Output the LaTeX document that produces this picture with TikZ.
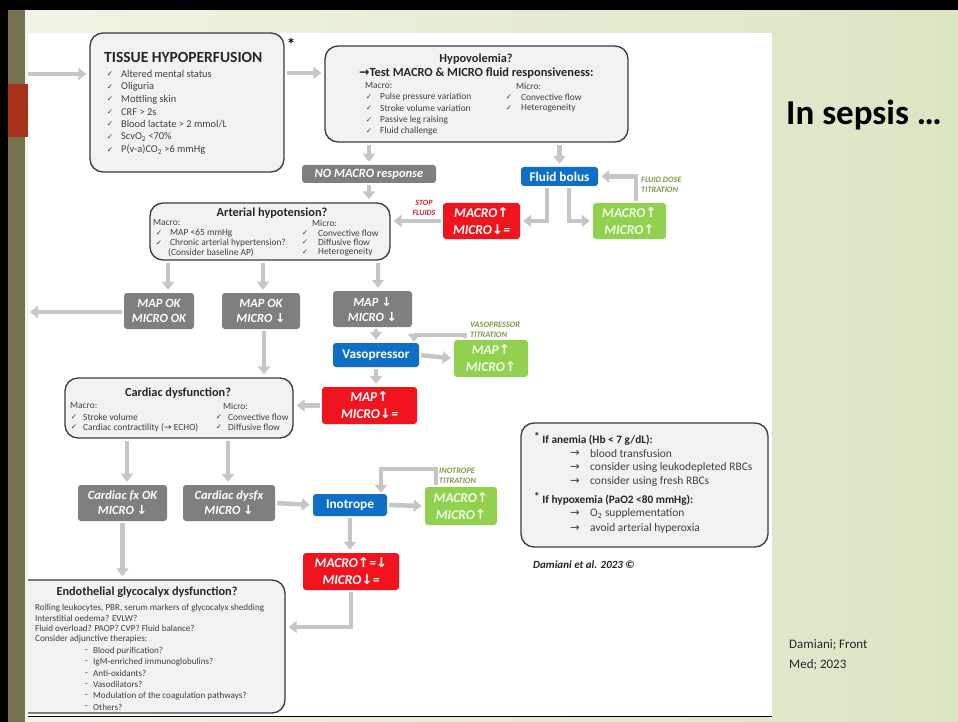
\documentclass[tikz,border=0pt]{standalone}
\usepackage{fontspec}
\setmainfont{Carlito}
\newfontfamily\symf{DejaVu Sans}
\usetikzlibrary{arrows.meta,calc}
\definecolor{boxfill}{HTML}{F2F2F2}
\definecolor{boxline}{HTML}{3A3A3A}
\definecolor{txtc}{HTML}{404040}
\definecolor{arrg}{HTML}{C6C6C6}
\definecolor{grayb}{HTML}{7F7F7F}
\definecolor{blueb}{HTML}{0F6FC6}
\definecolor{redb}{HTML}{F0141E}
\definecolor{greenb}{HTML}{92D050}
\definecolor{greent}{HTML}{F2FFE6}
\definecolor{titg}{HTML}{7A9A45}
\definecolor{stopr}{HTML}{D02030}
\definecolor{olivestrip}{HTML}{76704E}
\definecolor{redstrip}{HTML}{A8321A}
\definecolor{bgA}{HTML}{F1F5E6}
\definecolor{bgB}{HTML}{DBE5C3}
\newcommand{\upa}{{\symf ↑}}
\newcommand{\dna}{{\symf ↓}}
\newcommand{\ckm}{✓}
\tikzset{
  rbox/.style={draw=boxline, fill=boxfill, line width=1.3pt, rounded corners=13pt, inner sep=0pt},
  cbox/.style={rounded corners=3pt, inner sep=0pt, align=center, font=\bfseries\itshape\fontsize{12.5}{15}\selectfont},
  gbox/.style={cbox, fill=grayb, text=white},
  rdbox/.style={cbox, fill=redb, text=white, font=\bfseries\itshape\fontsize{13.5}{17}\selectfont},
  grbox/.style={cbox, fill=greenb, text=greent, font=\bfseries\itshape\fontsize{13.5}{17}\selectfont},
  blbox/.style={cbox, fill=blueb, text=white, font=\bfseries\fontsize{13.3}{15}\selectfont},
  ttl/.style={inner sep=0pt, text=black!85, font=\bfseries\fontsize{12.3}{14}\selectfont},
  lt/.style={anchor=west, inner sep=0pt, text=txtc, font=\fontsize{9.4}{10}\selectfont},
  ltb/.style={anchor=west, inner sep=0pt, text=txtc, font=\fontsize{11.5}{13}\selectfont},
  ck/.style={inner sep=0pt, text=txtc, font=\symf\fontsize{7.5}{8}\selectfont},
  tit/.style={anchor=west, inner sep=0pt, align=left, text=titg, font=\bfseries\itshape\fontsize{8.3}{10}\selectfont},
  ga/.style={draw=arrg, line width=4.5pt, -{Triangle[width=12pt,length=8pt]}, shorten >=3pt, shorten <=2pt}
}
\begin{document}
\begin{tikzpicture}[x=1pt,y=-1pt]
\useasboundingbox (0,0) rectangle (958,722);
% slide background
\shade[left color=bgA, right color=bgB] (0,0) rectangle (958,722);
\fill[black] (0,0) rectangle (958,10);
\fill[black] (0,0) rectangle (8,722);
\fill[olivestrip] (8,10) rectangle (25,722);
\fill[redstrip] (8,84) rectangle (28,137);
\fill[white] (28,33) rectangle (772,716);
\draw[black, line width=1.2pt] (28,716.5) -- (772,716.5);

\begin{scope}
\clip (28,33) rectangle (772,716);
% ---------------- boxes
\node[rbox, minimum width=194pt, minimum height=139pt] (tissue) at (187,102.5) {};
\node[rbox, minimum width=303pt, minimum height=96pt] (hyp) at (476.5,94) {};
\node[gbox, minimum width=134pt, minimum height=18pt] (nomacro) at (369,174) {NO MACRO response};
\node[blbox, minimum width=77pt, minimum height=19pt] (bolus) at (559.5,176.5) {Fluid bolus};
\node[rbox, minimum width=240pt, minimum height=57pt] (art) at (270,231.5) {};
\node[rdbox, minimum width=77pt, minimum height=36pt] (redA) at (481.5,221) {MACRO\upa\\MICRO\dna=};
\node[grbox, minimum width=73pt, minimum height=36pt] (greenA) at (629.5,221) {MACRO\upa\\MICRO\upa};
\node[gbox, minimum width=70pt, minimum height=36pt] (mapok1) at (159,311) {MAP OK\\MICRO OK};
\node[gbox, minimum width=78pt, minimum height=36pt] (mapok2) at (261,311) {MAP OK\\MICRO \dna};
\node[gbox, minimum width=79pt, minimum height=36pt] (mapdn) at (372.5,309) {MAP \dna\\MICRO \dna};
\node[blbox, minimum width=86pt, minimum height=24pt] (vaso) at (376,355) {Vasopressor};
\node[grbox, minimum width=74pt, minimum height=37pt] (greenB) at (491,358.5) {MAP\upa\\MICRO\upa};
\node[rdbox, minimum width=95pt, minimum height=37pt] (redB) at (369.5,405.5) {MAP\upa\\MICRO\dna=};
\node[rbox, minimum width=228pt, minimum height=60pt] (cardiac) at (179,408) {};
\node[gbox, minimum width=89pt, minimum height=36pt] (fxok) at (122.5,503) {Cardiac fx OK\\MICRO \dna};
\node[gbox, minimum width=92pt, minimum height=36pt] (dysfx) at (229,503) {Cardiac dysfx\\MICRO \dna};
\node[blbox, minimum width=74pt, minimum height=22pt] (ino) at (350,505) {Inotrope};
\node[grbox, minimum width=72pt, minimum height=38pt] (greenC) at (461,506) {MACRO\upa\\MICRO\upa};
\node[rdbox, minimum width=96pt, minimum height=37pt] (redC) at (351,571.5) {MACRO\upa=\dna\\MICRO\dna=};
\node[rbox, minimum width=275pt, minimum height=133pt] (endo) at (147.5,646.5) {};
\node[rbox, minimum width=247pt, minimum height=124pt] (anemia) at (644.5,485) {};

% ---------------- tissue text
\node[anchor=west, inner sep=0pt, text=black!85, font=\bfseries\fontsize{15.5}{17}\selectfont] (tisT) at (104,57) {TISSUE HYPOPERFUSION};
\foreach \t [count=\i] in {Altered mental status, Oliguria, Mottling skin, CRF > 2s, Blood lactate > 2 mmol/L, {ScvO\textsubscript{2} <70\%}, {P(v-a)CO\textsubscript{2} >6 mmHg}} {
  \node[ck] (tisc\i) at (110,61.5+\i*12.6) {\ckm};
  \node[lt, font=\fontsize{10.4}{11}\selectfont] (tis\i) at (121,61.5+\i*12.6) {\t};
}
\node[inner sep=0pt, font=\bfseries\fontsize{17}{18}\selectfont] (star1) at (291,44) {*};

% ---------------- hypovolemia text
\node[ttl, font=\bfseries\fontsize{12.3}{14}\selectfont] (hypT) at (476,59) {Hypovolemia?};
\node[anchor=west, inner sep=0pt, text=black!85, font=\bfseries\fontsize{12.4}{14}\selectfont] (hypS) at (359,73) {{\symf →}Test MACRO \& MICRO fluid responsiveness:};
\node[lt] (hypMa) at (365,86) {Macro:};
\node[lt] (hypMi) at (516,86) {Micro:};
\foreach \t [count=\i] in {Pulse pressure variation, Stroke volume variation, Passive leg raising, Fluid challenge} {
  \node[ck] (hypc\i) at (369,85.5+\i*11.4) {\ckm};
  \node[lt] (hypa\i) at (380,85.5+\i*11.4) {\t};
}
\foreach \t [count=\i] in {Convective flow, Heterogeneity} {
  \node[ck] (hypd\i) at (509,85.5+\i*11.4) {\ckm};
  \node[lt] (hypb\i) at (521,85.5+\i*11.4) {\t};
}

% ---------------- arterial hypotension text
\node[ttl] (artT) at (272,213) {Arterial hypotension?};
\node[lt] (artMa) at (153,223) {Macro:};
\node[lt] (artMi) at (312,223) {Micro:};
\node[ck] (artc1) at (159,233) {\ckm};
\node[lt] (arta1) at (170,233) {MAP <65 mmHg};
\node[ck] (artc2) at (159,243) {\ckm};
\node[lt] (arta2) at (170,243) {Chronic arterial hypertension?};
\node[lt] (arta3) at (168,252.5) {(Consider baseline AP)};
\foreach \t [count=\i] in {Convective flow, Diffusive flow, Heterogeneity} {
  \node[ck] (artd\i) at (305,223+\i*9.8) {\ckm};
  \node[lt] (artb\i) at (318,223+\i*9.8) {\t};
}
\node[inner sep=0pt, align=center, text=stopr, font=\bfseries\itshape\fontsize{8}{9.5}\selectfont] (stop) at (424,208) {STOP\\FLUIDS};
\node[tit] (fdt) at (641,184.5) {FLUID DOSE\\TITRATION};
\node[tit] (vpt) at (470,330) {VASOPRESSOR\\TITRATION};
\node[tit] (ipt) at (439,476) {INOTROPE\\TITRATION};

% ---------------- cardiac text
\node[ttl] (carT) at (178,393) {Cardiac dysfunction?};
\node[lt] (carMa) at (70,406) {Macro:};
\node[lt] (carMi) at (223,406) {Micro:};
\node[ck] (carc1) at (74,417) {\ckm};
\node[lt] (cara1) at (83,417) {Stroke volume};
\node[ck] (carc2) at (74,427.5) {\ckm};
\node[lt] (cara2) at (83,427.5) {Cardiac contractility ({\symf →} ECHO)};
\node[ck] (card1) at (219,417) {\ckm};
\node[lt] (carb1) at (228,417) {Convective flow};
\node[ck] (card2) at (219,427.5) {\ckm};
\node[lt] (carb2) at (228,427.5) {Diffusive flow};

% ---------------- endothelial text
\node[ttl] (endT) at (147,592) {Endothelial glycocalyx dysfunction?};
\foreach \t [count=\i] in {{Rolling leukocytes, PBR, serum markers of glycocalyx shedding}, {Interstitial oedema? EVLW?}, {Fluid overload? PAOP? CVP? Fluid balance?}, {Consider adjunctive therapies:}} {
  \node[lt, font=\fontsize{9.1}{10}\selectfont] (endl\i) at (35,597.5+\i*10.4) {\t};
}
\foreach \t [count=\i] in {Blood purification?, IgM-enriched immunoglobulins?, Anti-oxidants?, Vasodilators?, Modulation of the coagulation pathways?, Others?} {
  \node[lt, font=\fontsize{9.1}{10}\selectfont] (endd\i) at (85,640+\i*11.2) {-};
  \node[lt, font=\fontsize{9.1}{10}\selectfont] (ende\i) at (93,640+\i*11.2) {\t};
}

% ---------------- anemia text
\node[anchor=west, inner sep=0pt, text=black!85, font=\bfseries\fontsize{11.3}{13}\selectfont] (an1) at (534,439) {\raisebox{2.5pt}{*} If anemia (Hb < 7 g/dL):};
\foreach \t [count=\i] in {blood transfusion, consider using leukodepleted RBCs, consider using fresh RBCs} {
  \node[ltb] (ana\i) at (570,439+\i*14.2) {{\symf →}};
  \node[ltb] (ant\i) at (590,439+\i*14.2) {\t};
}
\node[anchor=west, inner sep=0pt, text=black!85, font=\bfseries\fontsize{11.3}{13}\selectfont] (an2) at (534,499) {\raisebox{2.5pt}{*} If hypoxemia (PaO2 <80 mmHg):};
\node[ltb] (anb1) at (570,513.5) {{\symf →}};
\node[ltb] (anu1) at (590,513.5) {O\textsubscript{2} supplementation};
\node[ltb] (anb2) at (570,528) {{\symf →}};
\node[ltb] (anu2) at (590,528) {avoid arterial hyperoxia};
\node[anchor=west, inner sep=0pt, text=black!85, font=\bfseries\itshape\fontsize{11}{12}\selectfont] (cite) at (533,565) {Damiani et al. 2023 ©};

% ---------------- connectors
\coordinate (inL) at (26,74);
\coordinate (outL) at (27,312);
\coordinate (vt) at (465,335);
\coordinate (it) at (436,469);
\draw[ga] (inL) -- (tissue.west |- inL);
\draw[ga] (tissue.east |- 0,73) -- (hyp.west |- 0,73);
\draw[ga] (hyp.south -| nomacro) -- (nomacro.north);
\draw[ga] (hyp.south -| bolus) -- (bolus.north);
\draw[ga] (nomacro.south) -- (art.north -| nomacro);
\draw[ga] (bolus.south -| 547,0) |- (redA.east);
\draw[ga] (bolus.south -| 569,0) |- (greenA.west);
\draw[ga] (greenA.north -| 636,0) |- (bolus.east);
\draw[ga] (redA.west) -- (art.east |- redA.west);
\draw[ga] (art.south -| 168,0) -- (mapok1.north -| 168,0);
\draw[ga] (art.south -| 263,0) -- (mapok2.north -| 263,0);
\draw[ga] (art.south -| 378,0) -- (mapdn.north -| 378,0);
\draw[ga] (mapok1.west |- outL) -- (outL);
\draw[ga] (mapok2.south -| 264,0) -- (cardiac.north -| 264,0);
\draw[ga] (mapdn.south -| vaso) -- (vaso.north);
\draw[ga] (vaso.east) -- (greenB.west);
\draw[ga, shorten >=1pt] (greenB.north -| vt) -- (vt) -| (vaso.north -| 414,0);
\draw[ga] (vaso.south) -- (redB.north -| vaso.south);
\draw[ga] (redB.west) -- (cardiac.east |- redB.west);
\draw[ga] (cardiac.south -| 127,0) -- (fxok.north -| 127,0);
\draw[ga] (cardiac.south -| 228,0) -- (dysfx.north -| 228,0);
\draw[ga] (dysfx.east) -- (ino.west);
\draw[ga] (ino.east) -- (greenC.west);
\draw[ga, shorten >=1pt] (greenC.north -| it) -- (it) -| (ino.north -| 381,0);
\draw[ga] (ino.south) -- (redC.north -| ino.south);
\draw[ga] (fxok.south) -- (endo.north -| fxok.south);
\draw[ga] (redC.south) |- (endo.east |- 0,627);
\end{scope}

% ---------------- right panel
\node[anchor=west, inner sep=0pt, font=\bfseries\fontsize{35}{40}\selectfont] (sep) at (786,115) {In sepsis …};
\node[anchor=west, inner sep=0pt, align=left, text=black!85, font=\fontsize{13}{20}\selectfont] (ref) at (789,655) {Damiani; Front\\Med; 2023};
\end{tikzpicture}
\end{document}
